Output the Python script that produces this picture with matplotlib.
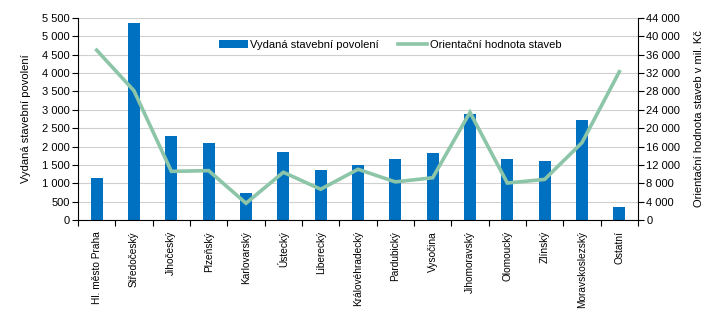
import matplotlib
matplotlib.use("Agg")
import matplotlib.pyplot as plt
import numpy as np
from matplotlib.ticker import FuncFormatter, FixedLocator

plt.rcParams["font.family"] = ["Liberation Sans", "DejaVu Sans"]

regions = ["Hl. město Praha", "Středočeský", "Jihočeský", "Plzeňský", "Karlovarský",
           "Ústecký", "Liberecký", "Královéhradecký", "Pardubický", "Vysočina",
           "Jihomoravský", "Olomoucký", "Zlínský", "Moravskoslezský", "Ostatní"]
permits = [1140, 5355, 2290, 2095, 735, 1845, 1355, 1500, 1660, 1825,
           2890, 1660, 1605, 2725, 355]
value_mil = [37000, 28150, 10600, 10750, 3650, 10400, 6700, 11050, 8300, 9200,
             23450, 8050, 8850, 16850, 32300]

bar_color = "#0070C0"
line_color = "#8CC5A8"
fs = 8

def thousands(v, pos):
    return f"{int(v):,}".replace(",", " ")

fig = plt.figure(figsize=(7.16, 3.22), dpi=100)
ax = fig.add_axes([78 / 716, 1 - 220 / 322, 560 / 716, 202 / 322])
x = np.arange(len(regions))

ax.bar(x, permits, width=0.32, color=bar_color, label="Vydaná stavební povolení", zorder=2)
ax.set_ylim(0, 5500)
ax.set_yticks(np.arange(0, 5501, 500))
ax.yaxis.set_major_formatter(FuncFormatter(thousands))
ax.set_xlim(-0.5, len(regions) - 0.5)
ax.grid(axis="y", color="#d0d0d0", linewidth=0.8, zorder=0)
ax.set_axisbelow(True)

ax.set_xticks(x)
ax.set_xticklabels(regions, rotation=90, fontsize=7.3)
ax.tick_params(axis="x", which="major", length=0, pad=8)
ax.xaxis.set_minor_locator(FixedLocator(np.arange(-0.5, len(regions), 1)))
ax.tick_params(axis="x", which="minor", length=4, width=0.8)
ax.tick_params(axis="y", labelsize=fs, length=4, width=0.8, pad=2)
ax.set_ylabel("Vydaná stavební povolení", fontsize=fs, labelpad=8)
ax.spines["top"].set_visible(False)
ax.spines["right"].set_visible(False)
for s in ["left", "bottom"]:
    ax.spines[s].set_linewidth(0.8)

ax2 = ax.twinx()
ax2.plot(x, value_mil, color=line_color, linewidth=2.6, label="Orientační hodnota staveb",
         solid_joinstyle="miter", zorder=3)
ax2.set_ylim(0, 44000)
ax2.set_yticks(np.arange(0, 44001, 4000))
ax2.yaxis.set_major_formatter(FuncFormatter(thousands))
ax2.tick_params(axis="y", labelsize=fs, length=4, width=0.8, pad=2)
ax2.set_ylabel("Orientační hodnota staveb v mil. Kč", fontsize=fs, labelpad=10)
ax2.spines["top"].set_visible(False)
ax2.spines["left"].set_visible(False)
ax2.spines["bottom"].set_visible(False)
ax2.spines["right"].set_linewidth(0.8)

h1, l1 = ax.get_legend_handles_labels()
h2, l2 = ax2.get_legend_handles_labels()
ax2.legend(h1 + h2, l1 + l2, loc="center", bbox_to_anchor=(0.557, 0.866), ncol=2,
           frameon=False, fontsize=fs, handlelength=2.6, columnspacing=1.8, handletextpad=0.2)

fig.savefig("out.png", dpi=100)
